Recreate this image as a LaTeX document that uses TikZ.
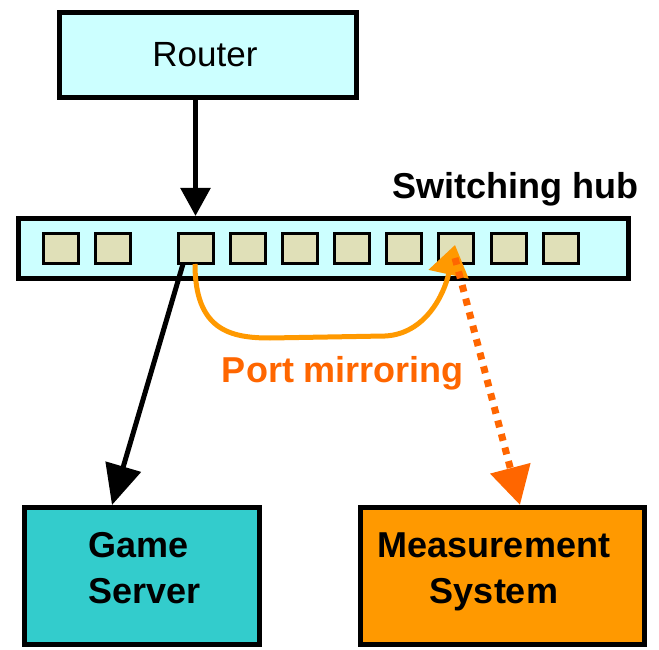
\documentclass[tikz,border=0pt]{standalone}
\usepackage{fontspec}
\setmainfont{Liberation Sans}
\usetikzlibrary{arrows.meta}
\definecolor{boxcyan}{HTML}{CCFFFF}
\definecolor{portfill}{HTML}{E0E0B8}
\definecolor{gamecol}{HTML}{33CCCC}
\definecolor{meascol}{HTML}{FF9900}
\definecolor{mirrorcol}{HTML}{FF9900}
\definecolor{dotcol}{HTML}{FF6600}
\tikzset{
  boxstyle/.style={draw=black, line width=5pt, rectangle, inner sep=0pt},
  portstyle/.style={draw=black, line width=3pt, fill=portfill, minimum width=35pt, minimum height=30pt, inner sep=0pt},
  bigtext/.style={font=\fontsize{35}{45}\selectfont, inner sep=0pt, anchor=base},
  boldtext/.style={font=\fontsize{36}{45}\selectfont\bfseries, inner sep=0pt, anchor=base},
}
\begin{document}
\begin{tikzpicture}[x=1pt,y=-1pt]
\useasboundingbox (0,0) rectangle (659,650);
% boxes
\node[boxstyle, fill=boxcyan, minimum width=297pt, minimum height=85pt] (router) at (208,55) {};
\node[bigtext] (routertext) at (205,67) {Router};
\node[boxstyle, fill=boxcyan, minimum width=610pt, minimum height=60pt] (hub) at (323.5,248.5) {};
\node[boldtext] (hubtext) at (515,198) {Switching hub};
\foreach \i/\x in {1/61,2/112.5,3/195.5,4/247.5,5/299.5,6/351.5,7/404,8/456,9/508.5,10/560.5}{
  \node[portstyle] (p\i) at (\x,248.5) {};
}
\node[boxstyle, fill=gamecol, minimum width=235pt, minimum height=137pt] (game) at (142,576) {};
\node[boldtext, anchor=base west] (gametext1) at (88,557) {Game};
\node[boldtext, anchor=base west] (gametext2) at (88,603) {Server};
\node[boxstyle, fill=meascol, minimum width=284pt, minimum height=137pt] (meas) at (502.5,576) {};
\node[boldtext] (meastext1) at (494,557) {Measurement};
\node[boldtext] (meastext2) at (494,603) {System};
% router -> hub
\draw[line width=5.5pt, -{Triangle[width=29pt,length=28pt]}] (router.south -| p3) -- (hub.north -| p3);
% hub -> game server
\coordinate (gsrc) at (183,264);
\coordinate (gdst) at (112,505);
\draw[line width=5pt, -{Triangle[width=36pt,length=40pt]}] (gsrc) -- (gdst);
% port mirroring curve
\coordinate (msrc) at (195,264);
\coordinate (mdst) at (455,245);
\draw[mirrorcol, line width=5pt, -{Triangle[width=40pt,length=30pt]}] (msrc) .. controls (195,330) and (230,338) .. (270,338) -- (385,336) .. controls (425,334) and (444,295) .. (mdst);
\node[boldtext, text=dotcol] (mirrortext) at (343,382) {Port mirroring};
% dotted link
\coordinate (dsrc) at (455,258);
\draw[dotcol, line width=7pt, dash pattern=on 7pt off 7pt, -{Triangle[width=40pt,length=38pt]}] (dsrc) -- (meas.north -| 520,0);
\end{tikzpicture}
\end{document}
